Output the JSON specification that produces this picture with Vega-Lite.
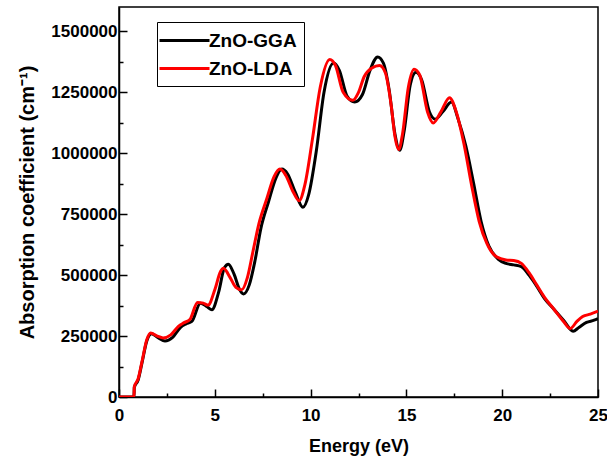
{
  "$schema": "https://vega.github.io/schema/vega-lite/v6.json",
  "autosize": "none",
  "width": 479,
  "height": 390,
  "padding": {"left": 119, "top": 7, "right": 9, "bottom": 60},
  "background": "white",
  "config": {
    "view": {"stroke": "black", "strokeWidth": 1.5},
    "font": "Liberation Sans"
  },
  "data": {"values": [
    {"s":"ZnO-GGA","E":0,"a":0},{"s":"ZnO-GGA","E":0.78,"a":0},{"s":"ZnO-GGA","E":0.8,"a":40000},{"s":"ZnO-GGA","E":1.0,"a":70000},{"s":"ZnO-GGA","E":1.2,"a":140000},{"s":"ZnO-GGA","E":1.45,"a":230000},{"s":"ZnO-GGA","E":1.7,"a":260000},{"s":"ZnO-GGA","E":2.0,"a":245000},{"s":"ZnO-GGA","E":2.4,"a":230000},{"s":"ZnO-GGA","E":2.8,"a":245000},{"s":"ZnO-GGA","E":3.2,"a":285000},{"s":"ZnO-GGA","E":3.5,"a":300000},{"s":"ZnO-GGA","E":3.8,"a":310000},{"s":"ZnO-GGA","E":4.25,"a":385000},{"s":"ZnO-GGA","E":4.6,"a":370000},{"s":"ZnO-GGA","E":4.85,"a":358000},{"s":"ZnO-GGA","E":5.2,"a":430000},{"s":"ZnO-GGA","E":5.5,"a":530000},{"s":"ZnO-GGA","E":5.71,"a":545000},{"s":"ZnO-GGA","E":6.0,"a":505000},{"s":"ZnO-GGA","E":6.3,"a":440000},{"s":"ZnO-GGA","E":6.5,"a":423000},{"s":"ZnO-GGA","E":6.8,"a":460000},{"s":"ZnO-GGA","E":7.1,"a":560000},{"s":"ZnO-GGA","E":7.4,"a":690000},{"s":"ZnO-GGA","E":7.8,"a":800000},{"s":"ZnO-GGA","E":8.2,"a":900000},{"s":"ZnO-GGA","E":8.5,"a":935000},{"s":"ZnO-GGA","E":8.8,"a":915000},{"s":"ZnO-GGA","E":9.2,"a":840000},{"s":"ZnO-GGA","E":9.6,"a":778000},{"s":"ZnO-GGA","E":9.9,"a":830000},{"s":"ZnO-GGA","E":10.3,"a":1010000},{"s":"ZnO-GGA","E":10.7,"a":1250000},{"s":"ZnO-GGA","E":11.2,"a":1370000},{"s":"ZnO-GGA","E":11.5,"a":1340000},{"s":"ZnO-GGA","E":11.9,"a":1235000},{"s":"ZnO-GGA","E":12.3,"a":1210000},{"s":"ZnO-GGA","E":12.7,"a":1240000},{"s":"ZnO-GGA","E":13.1,"a":1340000},{"s":"ZnO-GGA","E":13.5,"a":1395000},{"s":"ZnO-GGA","E":13.8,"a":1370000},{"s":"ZnO-GGA","E":14.1,"a":1260000},{"s":"ZnO-GGA","E":14.4,"a":1080000},{"s":"ZnO-GGA","E":14.65,"a":1012000},{"s":"ZnO-GGA","E":14.9,"a":1100000},{"s":"ZnO-GGA","E":15.2,"a":1280000},{"s":"ZnO-GGA","E":15.5,"a":1332000},{"s":"ZnO-GGA","E":15.8,"a":1300000},{"s":"ZnO-GGA","E":16.2,"a":1170000},{"s":"ZnO-GGA","E":16.5,"a":1140000},{"s":"ZnO-GGA","E":16.9,"a":1170000},{"s":"ZnO-GGA","E":17.35,"a":1210000},{"s":"ZnO-GGA","E":17.7,"a":1140000},{"s":"ZnO-GGA","E":18.1,"a":1030000},{"s":"ZnO-GGA","E":18.5,"a":880000},{"s":"ZnO-GGA","E":18.9,"a":720000},{"s":"ZnO-GGA","E":19.3,"a":620000},{"s":"ZnO-GGA","E":19.8,"a":565000},{"s":"ZnO-GGA","E":20.2,"a":548000},{"s":"ZnO-GGA","E":20.6,"a":542000},{"s":"ZnO-GGA","E":21.0,"a":535000},{"s":"ZnO-GGA","E":21.4,"a":500000},{"s":"ZnO-GGA","E":21.8,"a":455000},{"s":"ZnO-GGA","E":22.2,"a":405000},{"s":"ZnO-GGA","E":22.7,"a":360000},{"s":"ZnO-GGA","E":23.2,"a":315000},{"s":"ZnO-GGA","E":23.7,"a":270000},{"s":"ZnO-GGA","E":24.0,"a":285000},{"s":"ZnO-GGA","E":24.4,"a":306000},{"s":"ZnO-GGA","E":24.8,"a":315000},{"s":"ZnO-GGA","E":25.0,"a":322000},
    {"s":"ZnO-LDA","E":0,"a":0},{"s":"ZnO-LDA","E":0.78,"a":0},{"s":"ZnO-LDA","E":0.8,"a":42000},{"s":"ZnO-LDA","E":1.0,"a":75000},{"s":"ZnO-LDA","E":1.2,"a":145000},{"s":"ZnO-LDA","E":1.45,"a":235000},{"s":"ZnO-LDA","E":1.65,"a":263000},{"s":"ZnO-LDA","E":2.0,"a":250000},{"s":"ZnO-LDA","E":2.3,"a":242000},{"s":"ZnO-LDA","E":2.7,"a":255000},{"s":"ZnO-LDA","E":3.1,"a":290000},{"s":"ZnO-LDA","E":3.4,"a":305000},{"s":"ZnO-LDA","E":3.7,"a":318000},{"s":"ZnO-LDA","E":4.1,"a":388000},{"s":"ZnO-LDA","E":4.4,"a":385000},{"s":"ZnO-LDA","E":4.65,"a":377000},{"s":"ZnO-LDA","E":5.0,"a":440000},{"s":"ZnO-LDA","E":5.3,"a":515000},{"s":"ZnO-LDA","E":5.45,"a":528000},{"s":"ZnO-LDA","E":5.8,"a":490000},{"s":"ZnO-LDA","E":6.1,"a":450000},{"s":"ZnO-LDA","E":6.4,"a":440000},{"s":"ZnO-LDA","E":6.7,"a":490000},{"s":"ZnO-LDA","E":7.0,"a":600000},{"s":"ZnO-LDA","E":7.3,"a":710000},{"s":"ZnO-LDA","E":7.7,"a":810000},{"s":"ZnO-LDA","E":8.1,"a":905000},{"s":"ZnO-LDA","E":8.4,"a":935000},{"s":"ZnO-LDA","E":8.7,"a":910000},{"s":"ZnO-LDA","E":9.1,"a":840000},{"s":"ZnO-LDA","E":9.4,"a":805000},{"s":"ZnO-LDA","E":9.7,"a":870000},{"s":"ZnO-LDA","E":10.1,"a":1060000},{"s":"ZnO-LDA","E":10.5,"a":1270000},{"s":"ZnO-LDA","E":11.0,"a":1385000},{"s":"ZnO-LDA","E":11.3,"a":1360000},{"s":"ZnO-LDA","E":11.7,"a":1250000},{"s":"ZnO-LDA","E":12.2,"a":1217000},{"s":"ZnO-LDA","E":12.5,"a":1250000},{"s":"ZnO-LDA","E":12.8,"a":1315000},{"s":"ZnO-LDA","E":13.2,"a":1350000},{"s":"ZnO-LDA","E":13.6,"a":1360000},{"s":"ZnO-LDA","E":13.9,"a":1330000},{"s":"ZnO-LDA","E":14.2,"a":1200000},{"s":"ZnO-LDA","E":14.4,"a":1070000},{"s":"ZnO-LDA","E":14.6,"a":1015000},{"s":"ZnO-LDA","E":14.8,"a":1080000},{"s":"ZnO-LDA","E":15.1,"a":1270000},{"s":"ZnO-LDA","E":15.4,"a":1345000},{"s":"ZnO-LDA","E":15.7,"a":1320000},{"s":"ZnO-LDA","E":16.1,"a":1170000},{"s":"ZnO-LDA","E":16.4,"a":1124000},{"s":"ZnO-LDA","E":16.8,"a":1170000},{"s":"ZnO-LDA","E":17.25,"a":1228000},{"s":"ZnO-LDA","E":17.6,"a":1170000},{"s":"ZnO-LDA","E":18.0,"a":1040000},{"s":"ZnO-LDA","E":18.4,"a":870000},{"s":"ZnO-LDA","E":18.8,"a":720000},{"s":"ZnO-LDA","E":19.2,"a":630000},{"s":"ZnO-LDA","E":19.7,"a":575000},{"s":"ZnO-LDA","E":20.2,"a":562000},{"s":"ZnO-LDA","E":20.6,"a":560000},{"s":"ZnO-LDA","E":21.0,"a":548000},{"s":"ZnO-LDA","E":21.4,"a":510000},{"s":"ZnO-LDA","E":21.8,"a":460000},{"s":"ZnO-LDA","E":22.2,"a":410000},{"s":"ZnO-LDA","E":22.7,"a":360000},{"s":"ZnO-LDA","E":23.2,"a":310000},{"s":"ZnO-LDA","E":23.55,"a":281000},{"s":"ZnO-LDA","E":23.9,"a":310000},{"s":"ZnO-LDA","E":24.2,"a":330000},{"s":"ZnO-LDA","E":24.6,"a":340000},{"s":"ZnO-LDA","E":25.0,"a":352000}
  ]},
  "mark": {"type": "line", "interpolate": "monotone", "strokeWidth": 3, "clip": true},
  "encoding": {
    "x": {
      "field": "E", "type": "quantitative",
      "scale": {"domain": [0, 25], "nice": false},
      "axis": {
        "values": [0, 2.5, 5, 7.5, 10, 12.5, 15, 17.5, 20, 22.5, 25],
        "labelExpr": "datum.value % 5 === 0 ? datum.label : ''",
        "tickSize": {"condition": {"test": "datum.value % 5 === 0", "value": -8}, "value": -4},
        "tickColor": "black", "tickWidth": 1.5,
        "domainColor": "black", "domainWidth": 1.5,
        "grid": false,
        "labelFont": "Liberation Sans", "labelFontWeight": "bold", "labelFontSize": 17, "labelColor": "black",
        "labelPadding": 18, "labelFlush": false,
        "title": "Energy (eV)",
        "titleFont": "Liberation Sans", "titleFontWeight": "bold", "titleFontSize": 18, "titleColor": "black",
        "titlePadding": 14
      }
    },
    "y": {
      "field": "a", "type": "quantitative",
      "scale": {"domain": [0, 1600000], "nice": false},
      "axis": {
        "values": [0, 125000, 250000, 375000, 500000, 625000, 750000, 875000, 1000000, 1125000, 1250000, 1375000, 1500000],
        "labelExpr": "datum.value % 250000 === 0 ? datum.value : ''",
        "tickSize": {"condition": {"test": "datum.value % 250000 === 0", "value": -8}, "value": -4},
        "tickColor": "black", "tickWidth": 1.5,
        "domainColor": "black", "domainWidth": 1.5,
        "grid": false,
        "labelFont": "Liberation Sans", "labelFontWeight": "bold", "labelFontSize": 17, "labelColor": "black",
        "labelPadding": 10,
        "title": "Absorption coefficient (cm⁻¹)",
        "titleFont": "Liberation Sans", "titleFontWeight": "bold", "titleFontSize": 20, "titleColor": "black",
        "titlePadding": 13
      }
    },
    "color": {
      "field": "s", "type": "nominal",
      "scale": {"domain": ["ZnO-GGA", "ZnO-LDA"], "range": ["#000000", "#ff0000"]},
      "legend": {
        "title": null,
        "orient": "none", "legendX": 38, "legendY": 15,
        "symbolType": "M-1,0H4", "symbolSize": 400, "symbolStrokeWidth": 3, "symbolFillColor": "transparent",
        "symbolOffset": -6,
        "strokeColor": "black", "padding": 7,
        "labelFont": "Liberation Sans", "labelFontWeight": "bold", "labelFontSize": 19, "labelColor": "black",
        "labelOffset": 28, "rowPadding": 6
      }
    }
  }
}
